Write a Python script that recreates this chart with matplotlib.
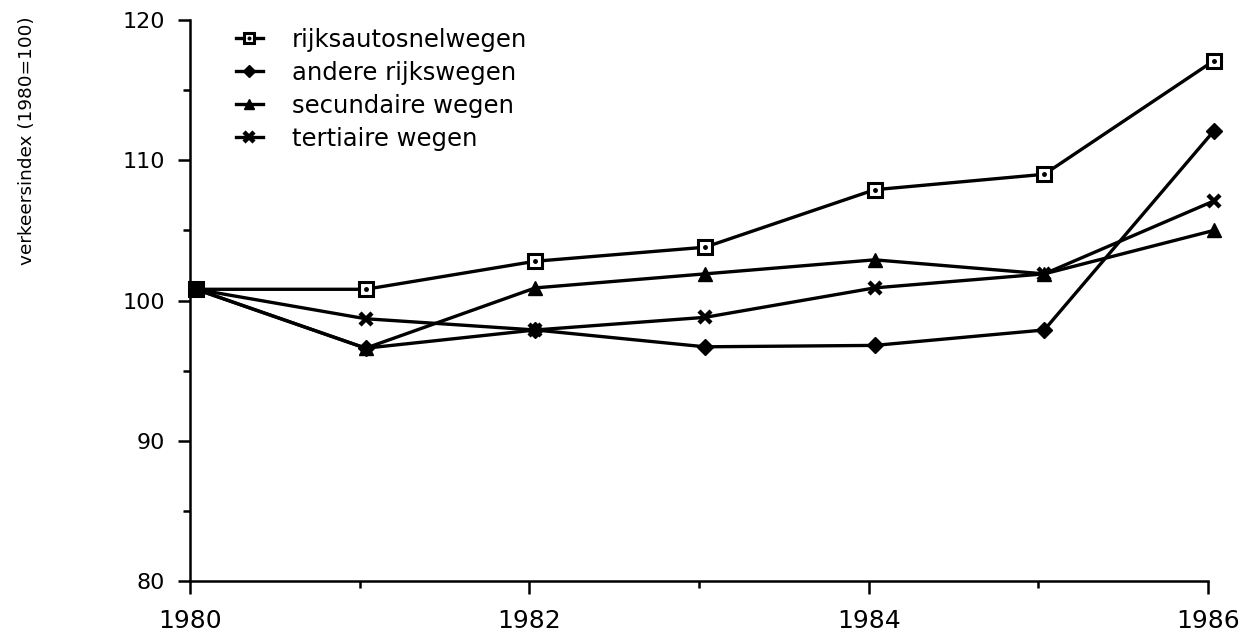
import matplotlib
matplotlib.use("Agg")
import matplotlib.pyplot as plt
import matplotlib.transforms as mtransforms
from matplotlib.lines import Line2D
from matplotlib.legend_handler import HandlerTuple

plt.rcParams['font.family'] = ['DejaVu Sans']

# jaren en verkeersindex per wegtype
years = [1980, 1981, 1982, 1983, 1984, 1985, 1986]
rijksautosnelwegen = [100.8, 100.8, 102.8, 103.8, 107.9, 109.0, 117.1]
andere_rijkswegen = [100.8, 96.6, 97.9, 96.7, 96.8, 97.9, 112.1]
secundaire_wegen = [100.8, 96.6, 100.9, 101.9, 102.9, 101.9, 105.0]
tertiaire_wegen = [100.8, 98.7, 97.9, 98.8, 100.9, 101.9, 107.1]

labels = ['rijksautosnelwegen', 'andere rijkswegen', 'secundaire wegen', 'tertiaire wegen']
xticks = [1980, 1982, 1984, 1986]
yticks = [80, 90, 100, 110, 120]

fig = plt.figure(figsize=(12.55, 6.35), dpi=100)
ax = fig.add_axes([0.1514, 0.085, 0.8111, 0.8835])

# punten staan iets rechts van de tickstreepjes in het origineel
shift = mtransforms.ScaledTranslation(0.06, 0, fig.dpi_scale_trans)
tr = ax.transData + shift

lw = 2.4
sq = dict(color='black', lw=lw, marker='s', ms=10, mfc='white', mec='black', mew=2.2)
dot = dict(ls='none', marker='o', ms=2.5, color='black')
dia = dict(color='black', lw=lw, marker='D', ms=8)
tri = dict(color='black', lw=lw, marker='^', ms=10)
crs = dict(color='black', lw=lw, marker='x', ms=9, mew=3.2)

ax.plot(years, rijksautosnelwegen, transform=tr, zorder=2, clip_on=False, **sq)
ax.plot(years, rijksautosnelwegen, transform=tr, zorder=3, clip_on=False, **dot)
ax.plot(years, andere_rijkswegen, transform=tr, zorder=4, clip_on=False, **dia)
ax.plot(years, secundaire_wegen, transform=tr, zorder=4, clip_on=False, **tri)
ax.plot(years, tertiaire_wegen, transform=tr, zorder=4, clip_on=False, **crs)

ax.set_xlim(1980, 1986)
ax.set_ylim(80, 120)
ax.set_xticks(xticks)
ax.set_xticks(years, minor=True)
ax.set_yticks(yticks)
ax.set_yticks([85, 95, 105, 115], minor=True)
ax.set_xticklabels([str(y) for y in xticks], fontsize=18)
ax.set_yticklabels([str(v) for v in yticks], fontsize=16)

for s in ['top', 'right']:
    ax.spines[s].set_visible(False)
for s in ['left', 'bottom']:
    ax.spines[s].set_linewidth(1.8)

ax.tick_params(axis='both', which='major', direction='out', length=9, width=1.8, color='black')
ax.tick_params(axis='both', which='minor', direction='out', length=5, width=1.8, color='black')
ax.tick_params(axis='x', which='major', pad=11)
ax.tick_params(axis='y', which='major', pad=9)

fig.text(27 / 1255, 1 - 141 / 635, 'verkeersindex (1980=100)', rotation=90,
         ha='center', va='center', fontsize=13.3)

# legenda met losse proxy-lijnen
handles = [(Line2D([], [], **sq), Line2D([], [], **dot)),
           Line2D([], [], **dia), Line2D([], [], **tri), Line2D([], [], **crs)]
ax.legend(handles, labels, handler_map={tuple: HandlerTuple(ndivide=1)},
          loc='upper left', bbox_to_anchor=(236 / 1255, 1 - 28 / 635),
          bbox_transform=fig.transFigure, frameon=False, borderaxespad=0, borderpad=0,
          fontsize=17.5, handlelength=1.1, handletextpad=1.2, labelspacing=0.37,
          markerscale=0.75)

fig.savefig('out.png', dpi=100, facecolor='white')
